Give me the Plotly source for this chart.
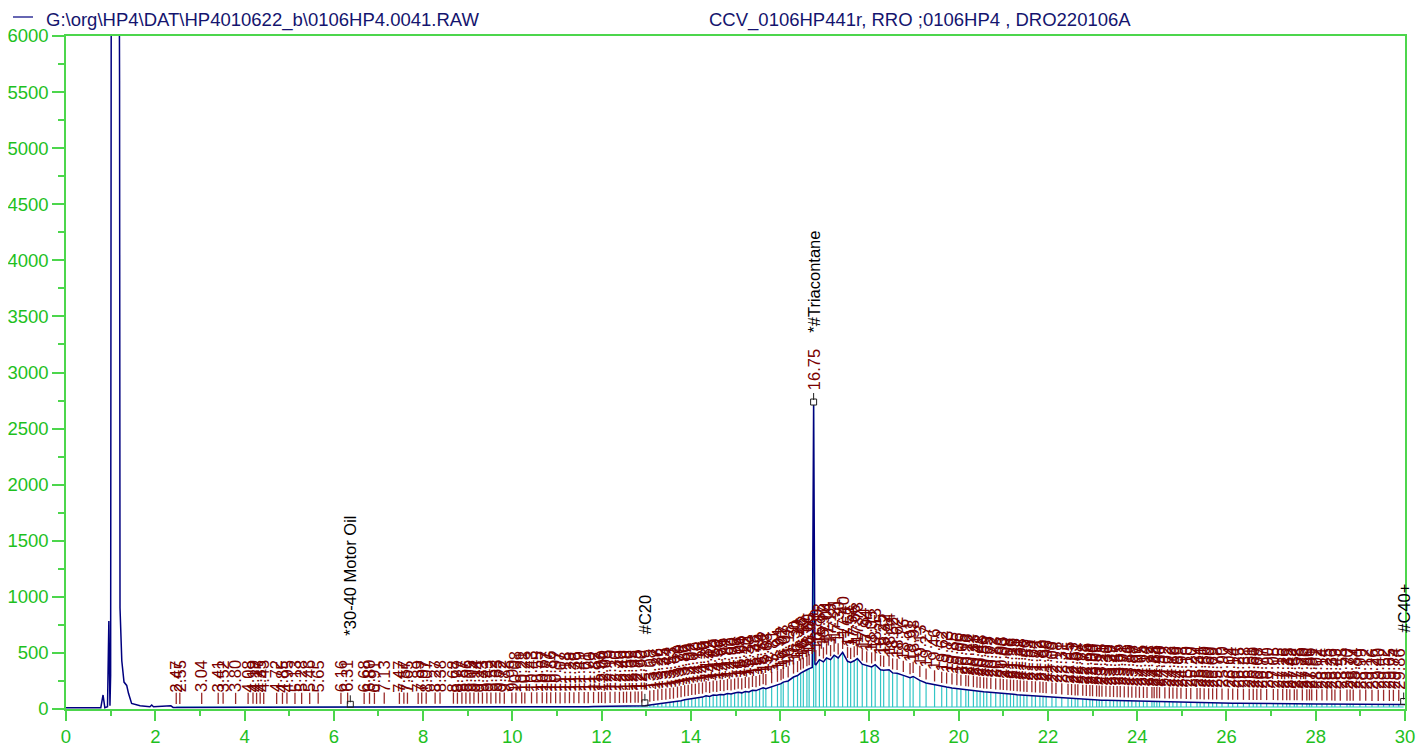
import plotly.graph_objects as go

# ── Raw chromatogram shape (solvent front etc.) ──────────────────────────────
SIGNAL_T = [0.00, 0.78, 0.83, 0.87, 0.93, 0.96, 0.985, 1.000, 1.015, 1.19, 1.200,
            1.210, 1.25, 1.30, 1.36, 1.40, 1.47, 1.66, 1.88, 1.92, 1.96, 2.30,
            2.35, 2.40, 16.72, 16.78, 30.00]
SIGNAL_Y = [12, 12, 125, 12, 20, 785, 30, 300, 7000, 7000, 5600,
            900, 430, 240, 210, 140, 50, 29, 20, 35, 20, 22,
            28, 14, 370, 400, 40]

# ── Integrated peaks: retention time [min] and apex height ──────────────────
PEAKS_A_T = [2.47, 2.55, 3.04, 3.41, 3.52, 3.80, 4.08, 4.19, 4.27, 4.35,
             4.43, 4.72, 4.85, 4.95, 5.13, 5.28, 5.46, 5.65, 6.16, 6.31,
             6.68, 6.80, 6.91, 7.13, 7.47, 7.57, 7.65, 7.89, 7.97, 8.07,
             8.27, 8.38, 8.68, 8.77, 8.87, 8.96, 9.05, 9.14, 9.24, 9.33,
             9.43, 9.52, 9.63, 9.72, 9.82, 9.99, 10.08, 10.21, 10.28, 10.43,
             10.55, 10.67, 10.77, 10.86, 10.97, 11.07, 11.18, 11.28, 11.38, 11.49,
             11.61, 11.70, 11.82, 11.93, 12.00, 12.08, 12.19, 12.30, 12.40, 12.49,
             12.56, 12.65, 12.75, 12.82, 12.90]
PEAKS_A_H = [14, 15, 14, 15, 16, 14, 15, 16, 15, 16,
             15, 14, 15, 16, 15, 14, 15, 16, 15, 16,
             15, 16, 15, 16, 15, 16, 16, 15, 16, 16,
             17, 16, 17, 16, 17, 17, 16, 17, 18, 17,
             18, 17, 18, 18, 17, 18, 18, 19, 18, 19,
             19, 20, 19, 20, 20, 19, 20, 21, 20, 21,
             22, 21, 22, 22, 23, 22, 23, 24, 23, 24,
             25, 25, 26, 26, 27]

PEAKS_B_T = [13.08, 13.17, 13.26, 13.35, 13.44, 13.53, 13.61, 13.70, 13.78, 13.86,
             13.94, 14.02, 14.10, 14.18, 14.26, 14.34, 14.42, 14.50, 14.58, 14.66,
             14.74, 14.82, 14.90, 14.98, 15.06, 15.14, 15.22, 15.30, 15.38, 15.46,
             15.54, 15.62, 15.68, 15.81, 15.94, 16.02, 16.07, 16.18, 16.30, 16.39,
             16.46, 16.52, 16.60, 16.65, 16.75]
PEAKS_B_H = [35, 40, 45, 50, 52, 58, 62, 70, 74, 82,
             86, 95, 96, 104, 106, 118, 112, 124, 122, 130,
             128, 138, 134, 142, 150, 144, 156, 152, 166, 164,
             176, 190, 182, 200, 212, 226, 240, 250, 285, 298,
             320, 330, 350, 360, 2710]

PEAKS_C_T = [16.80, 16.88, 16.97, 17.04, 17.13, 17.21, 17.30, 17.40, 17.51, 17.58,
             17.66, 17.73, 17.84, 17.94, 18.05, 18.13, 18.25, 18.32, 18.44, 18.52,
             18.62, 18.76, 18.91, 18.98, 19.13, 19.27, 19.46]
PEAKS_C_H = [395, 440, 420, 455, 440, 480, 455, 505, 425, 415,
             430, 450, 400, 385, 375, 395, 350, 345, 350, 322,
             318, 300, 280, 290, 255, 232, 215]

PEAKS_D_T = [19.62, 19.73, 19.85, 19.96, 20.05, 20.16, 20.22, 20.33, 20.41, 20.48,
             20.56, 20.63, 20.72, 20.83, 20.93, 21.00, 21.08, 21.16, 21.23, 21.31,
             21.38, 21.46, 21.53, 21.64, 21.72, 21.82, 21.89, 21.96, 22.09, 22.18,
             22.31, 22.45, 22.53, 22.61, 22.67, 22.78, 22.86, 22.94, 23.00, 23.09,
             23.15, 23.21, 23.30, 23.39, 23.47, 23.55, 23.62, 23.71, 23.80, 23.88,
             23.97, 24.05, 24.14, 24.22]
PEAKS_D_H = [202, 196, 188, 182, 176, 173, 170, 164, 160, 157,
             153, 151, 149, 144, 141, 138, 136, 133, 131, 128,
             126, 124, 122, 119, 117, 114, 112, 110, 106, 103,
             99, 95, 93, 91, 90, 87, 86, 84, 83, 81,
             80, 79, 78, 77, 76, 75, 74, 73, 72, 71,
             70, 69, 68, 67]

PEAKS_E_T = [24.33, 24.38, 24.44, 24.50, 24.62, 24.72, 24.80, 24.89, 24.98, 25.10,
             25.20, 25.34, 25.41, 25.50, 25.60, 25.69, 25.78, 25.90, 26.04, 26.14,
             26.25, 26.38, 26.51, 26.60, 26.68, 26.77, 26.90, 27.05, 27.15, 27.26,
             27.35, 27.42, 27.52, 27.58, 27.70, 27.80, 27.86, 27.91, 28.02, 28.14,
             28.25, 28.36, 28.43, 28.55, 28.70, 28.77, 28.84, 28.99, 29.12, 29.26,
             29.40, 29.52, 29.65, 29.74, 29.86]
PEAKS_E_H = [66, 66, 65, 65, 64, 63, 62, 61, 60, 58,
             57, 56, 56, 55, 55, 54, 54, 53, 53, 52,
             52, 51, 51, 50, 50, 50, 49, 49, 48, 48,
             48, 47, 47, 47, 46, 46, 46, 46, 45, 45,
             45, 45, 44, 44, 44, 44, 43, 43, 43, 42,
             42, 42, 41, 41, 41]

# ── Identified compounds / range markers ────────────────────────────────────
NAMED_T = [6.37, 12.97, 16.75, 29.97]
NAMED_H = [15, 28, 2710, 40]
NAMED_LABEL = ['*30-40 Motor Oil', '#C20', '*#Triacontane', '#C40+']

TRACE_NAME = 'G:\\org\\HP4\\DAT\\HP4010622_b\\0106HP4.0041.RAW'
METHOD_TEXT = 'CCV_0106HP441r, RRO ;0106HP4 , DRO220106A'

# ── Style ────────────────────────────────────────────────────────────────────
PAGE_PAD = 8                      # browser body margin around the plot div
PLOT_X0, PLOT_X1 = 66, 1405       # plot area in window pixels
PLOT_Y0, PLOT_Y1 = 36, 709
W, H = 1426 - PAGE_PAD, 749 - PAGE_PAD
M_L, M_T = PLOT_X0 - PAGE_PAD, PLOT_Y0 - PAGE_PAD
M_R, M_B = W - (PLOT_X1 - PAGE_PAD), H - (PLOT_Y1 - PAGE_PAD)
plot_w = PLOT_X1 - PLOT_X0
plot_h = PLOT_Y1 - PLOT_Y0

Y_MAX = 6000
PX_PER_UNIT = plot_h / Y_MAX


def paper_x(px):
    return (px - PLOT_X0) / plot_w


def paper_y(py):
    return (PLOT_Y1 - py) / plot_h


FONT = 'Liberation Sans, Arial, sans-serif'
NAVY = '#00007f'
TEXT_NAVY = '#14146e'
MAROON = '#7a0000'
TICK_RED = '#9a2a2a'
CYAN = '#33c6c6'
GREEN_LINE = '#4cd64c'
GREEN_TEXT = '#1ec01e'
BASELINE = 18

peak_t, peak_h = [], []
for ts, hs in [(PEAKS_A_T, PEAKS_A_H), (PEAKS_B_T, PEAKS_B_H), (PEAKS_C_T, PEAKS_C_H),
               (PEAKS_D_T, PEAKS_D_H), (PEAKS_E_T, PEAKS_E_H)]:
    assert len(ts) == len(hs)
    peak_t += ts
    peak_h += hs

# trace = raw shape + peak apexes + named markers
pts = dict(zip(SIGNAL_T, SIGNAL_Y))
pts.update(zip(peak_t, peak_h))
pts.update(zip(NAMED_T, NAMED_H))
trace_t = sorted(pts)
trace_y = [pts[t] for t in trace_t]

fig = go.Figure()

# integration drop lines + baseline
cx, cy = [peak_t[0], 29.97, None], [BASELINE, BASELINE, None]
for t, h in zip(peak_t, peak_h):
    cx += [t, t, None]
    cy += [BASELINE, h, None]
fig.add_trace(go.Scatter(x=cx, y=cy, mode='lines', hoverinfo='skip',
                         line=dict(color=CYAN, width=1.2), showlegend=False))

fig.add_trace(go.Scatter(x=trace_t, y=trace_y, mode='lines', name=TRACE_NAME,
                         line=dict(color=NAVY, width=1.5), showlegend=False))

# peak ticks
tick_t = [t for t in peak_t if t not in NAMED_T]
tick_h = [h + 9 / PX_PER_UNIT for t, h in zip(peak_t, peak_h) if t not in NAMED_T]
fig.add_trace(go.Scatter(
    x=tick_t, y=tick_h, mode='markers', hoverinfo='skip', showlegend=False,
    marker=dict(symbol='line-ns', size=8, line=dict(color=TICK_RED, width=1.3)),
))

# named markers: small box with a stub
fig.add_trace(go.Scatter(
    x=NAMED_T, y=[h + 3 / PX_PER_UNIT for h in NAMED_H], mode='markers',
    hoverinfo='skip', showlegend=False,
    marker=dict(symbol='square-open', size=6, color='#202020',
                line=dict(color='#202020', width=1)),
))
fig.add_trace(go.Scatter(
    x=NAMED_T, y=[h + 8.5 / PX_PER_UNIT for h in NAMED_H], mode='markers',
    hoverinfo='skip', showlegend=False,
    marker=dict(symbol='line-ns', size=5, line=dict(color='#202020', width=1)),
))

annotations = []
for t, h in zip(peak_t, peak_h):
    annotations.append(dict(
        x=t, y=h, text=f'{t:.2f}', textangle=-90, showarrow=False,
        xanchor='center', yanchor='bottom', yshift=14, borderpad=0,
        font=dict(family=FONT, size=16.5, color=MAROON),
    ))
for t, h, lab in zip(NAMED_T, NAMED_H, NAMED_LABEL):
    annotations.append(dict(
        x=t, y=h, text=lab, textangle=-90, showarrow=False,
        xanchor='center', yanchor='bottom', yshift=71, borderpad=0,
        font=dict(family=FONT, size=16.5, color='black'),
    ))

# header: legend entry and method text (top edge of the figure div)
hy = paper_y(PAGE_PAD)
annotations.append(dict(
    xref='paper', yref='paper', x=paper_x(45), y=hy, text=TRACE_NAME,
    showarrow=False, xanchor='left', yanchor='top', borderpad=0,
    font=dict(family=FONT, size=18.5, color=TEXT_NAVY),
))
annotations.append(dict(
    xref='paper', yref='paper', x=paper_x(708), y=hy, text=METHOD_TEXT,
    showarrow=False, xanchor='left', yanchor='top', borderpad=0,
    font=dict(family=FONT, size=18.5, color=TEXT_NAVY),
))

fig.add_shape(type='line', xref='paper', yref='paper',
              x0=paper_x(13), x1=paper_x(33), y0=paper_y(17), y1=paper_y(17),
              line=dict(color=NAVY, width=1.2))

axis_common = dict(
    ticks='outside', tickwidth=1.5, tickcolor=GREEN_LINE, automargin=False,
    showline=True, linecolor=GREEN_LINE, linewidth=1.5, mirror=True,
    showgrid=False, zeroline=False,
    tickfont=dict(family=FONT, size=18.5, color=GREEN_TEXT),
)

fig.update_layout(
    width=W, height=H,
    margin=dict(l=M_L, r=M_R, t=M_T, b=M_B, autoexpand=False),
    paper_bgcolor='white', plot_bgcolor='white',
    showlegend=False,
    annotations=annotations,
    xaxis=dict(range=[0, 30], dtick=2, tick0=0, ticklen=10,
               minor=dict(dtick=1, ticks='outside', ticklen=5,
                          tickcolor=GREEN_LINE, tickwidth=1.5),
               **axis_common),
    yaxis=dict(range=[0, Y_MAX], dtick=500, tick0=0, ticklen=12,
               minor=dict(dtick=250, ticks='outside', ticklen=6,
                          tickcolor=GREEN_LINE, tickwidth=1.5),
               **axis_common),
)

fig.write_html('out.html')
